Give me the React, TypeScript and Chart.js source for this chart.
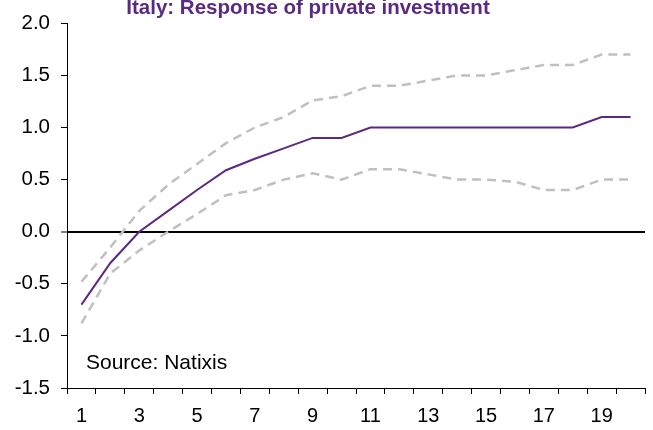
import React, { useEffect, useRef } from "react";
import { Chart, registerables } from "chart.js";

Chart.register(...registerables);

const categories = ["1","2","3","4","5","6","7","8","9","10","11","12","13","14","15","16","17","18","19","20"];
const responseValues = [-0.7, -0.3, 0.0, 0.2, 0.4, 0.59, 0.7, 0.8, 0.9, 0.9, 1.0, 1.0, 1.0, 1.0, 1.0, 1.0, 1.0, 1.0, 1.1, 1.1];
const upperBand = [-0.48, -0.15, 0.2, 0.45, 0.65, 0.85, 1.0, 1.1, 1.26, 1.3, 1.4, 1.4, 1.45, 1.5, 1.5, 1.55, 1.6, 1.6, 1.7, 1.7];
const lowerBand = [-0.88, -0.4, -0.18, 0.0, 0.17, 0.35, 0.4, 0.5, 0.56, 0.5, 0.6, 0.6, 0.55, 0.5, 0.5, 0.48, 0.4, 0.4, 0.5, 0.5];
const titleText = "Italy: Response of private investment";
const sourceText = "Source: Natixis";

const PURPLE = "#5A2A82";
const GRAY = "#C0C0C0";
const FONT = "'Liberation Sans', Arial, sans-serif";

const overlayPlugin = {
  id: "overlay",
  afterDraw(chart: any) {
    const ctx = chart.ctx;
    const area = chart.chartArea;
    ctx.save();
    ctx.fillStyle = PURPLE;
    ctx.font = `bold 20.5px ${FONT}`;
    ctx.textAlign = "center";
    ctx.textBaseline = "alphabetic";
    ctx.fillText(titleText, 308, 14);
    ctx.fillStyle = "#000";
    ctx.font = `21px ${FONT}`;
    ctx.textAlign = "left";
    ctx.textBaseline = "middle";
    ctx.fillText(sourceText, area.left + 19, 363);
    ctx.restore();
  },
};

export default function App() {
  const ref = useRef<HTMLCanvasElement | null>(null);
  useEffect(() => {
    if (!ref.current) return;
    const chart = new Chart(ref.current, {
      type: "line",
      data: {
        labels: categories,
        datasets: [
          {
            data: upperBand,
            borderColor: GRAY,
            borderWidth: 2.5,
            borderDash: [9, 6],
            pointRadius: 0,
            tension: 0,
            fill: false,
          },
          {
            data: lowerBand,
            borderColor: GRAY,
            borderWidth: 2.5,
            borderDash: [9, 6],
            pointRadius: 0,
            tension: 0,
            fill: false,
          },
          {
            data: responseValues,
            borderColor: PURPLE,
            borderWidth: 2,
            pointRadius: 0,
            tension: 0,
            fill: false,
          },
        ],
      },
      options: {
        responsive: false,
        animation: false,
        layout: { padding: { top: 18, right: 8, left: 0, bottom: 0 } },
        plugins: { legend: { display: false }, tooltip: { enabled: false }, title: { display: false } },
        scales: {
          x: {
            type: "category",
            offset: true,
            grid: {
              offset: true,
              drawOnChartArea: false,
              color: "#000",
              tickColor: "#000",
              tickLength: 6,
            },
            border: { color: "#000", width: 1 },
            ticks: {
              autoSkip: false,
              maxRotation: 0,
              color: "#000",
              font: { family: FONT, size: 20 },
              padding: 10,
              callback: (_v: any, i: number) => (i % 2 === 0 ? categories[i] : ""),
            },
            afterFit: (s: any) => { s.height = 42; },
          },
          y: {
            min: -1.5,
            max: 2.0,
            grid: {
              drawOnChartArea: true,
              color: (c: any) => (c.tick && c.tick.value === 0 ? "#000" : "rgba(0,0,0,0)"),
              lineWidth: (c: any) => (c.tick && c.tick.value === 0 ? 2 : 1),
              tickColor: "#000",
              tickWidth: 1,
              tickLength: 6,
            },
            border: { color: "#000", width: 1 },
            ticks: {
              stepSize: 0.5,
              color: "#000",
              font: { family: FONT, size: 20.5 },
              padding: 11,
              callback: (v: any) => Number(v).toFixed(1),
            },
            afterFit: (s: any) => { s.width = 67; },
          },
        },
      },
      plugins: [overlayPlugin],
    });
    return () => chart.destroy();
  }, []);
  return (
    <div style={{ position: "fixed", left: 0, top: 0, width: 653, height: 430, background: "#fff" }}>
      <canvas ref={ref} width={653} height={430} style={{ width: 653, height: 430 }} />
    </div>
  );
}
